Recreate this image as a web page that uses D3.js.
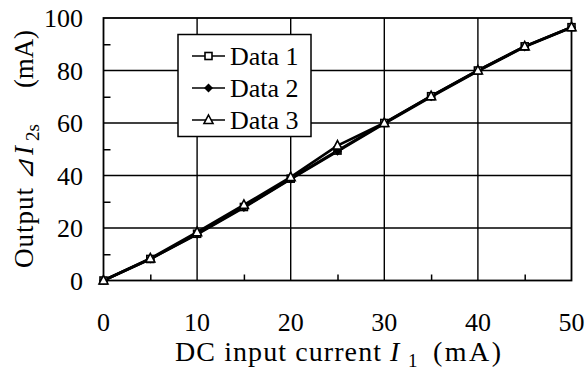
<!DOCTYPE html>
<html>
<head>
<meta charset="utf-8">
<script src="https://cdn.jsdelivr.net/npm/d3@7"></script>
</head>
<body style="margin:0">
<svg id="chart" width="586" height="371" style="font-family: 'Liberation Serif', serif"></svg>
<script>
// input current (mA)
const current = [0, 5, 10, 15, 20, 25, 30, 35, 40, 45, 50]
const data1 = [0, 8.2, 17.8, 28.0, 38.8, 49.5, 60.0, 70.2, 80.0, 89.2, 96.5]
const data2 = [0, 8.2, 17.6, 27.8, 38.6, 49.2, 59.8, 70.0, 79.8, 89.0, 96.4]
const data3 = [0, 8.4, 18.4, 28.8, 39.4, 51.4, 60.0, 70.2, 80.0, 89.2, 96.5]
const series_names = ["Data 1", "Data 2", "Data 3"]
const x_ticks = [0, 10, 20, 30, 40, 50]
const y_ticks = [0, 20, 40, 60, 80, 100]

const font = "'Liberation Serif', serif"

const svg = d3.select("#chart")
const margin = {left: 103.5, right: 14.5, top: 18, bottom: 90.5}
const width = 586 - margin.left - margin.right
const height = 371 - margin.top - margin.bottom

const x = d3.scaleLinear().domain([0, 50]).range([margin.left, margin.left + width])
const y = d3.scaleLinear().domain([0, 100]).range([margin.top + height, margin.top])

// grid
const grid = svg.append("g").attr("stroke", "#000").attr("stroke-width", 1.4)
grid.selectAll(".gx").data(x_ticks.slice(1, -1)).join("line")
    .attr("x1", d => x(d)).attr("x2", d => x(d))
    .attr("y1", y(0)).attr("y2", y(100))
grid.selectAll(".gy").data(y_ticks.slice(1, -1)).join("line")
    .attr("x1", x(0)).attr("x2", x(50))
    .attr("y1", d => y(d)).attr("y2", d => y(d))

// minor ticks, inward
const xAxis = d3.axisBottom(x).tickValues([5, 15, 25, 35, 45]).tickSize(-6).tickFormat("")
svg.append("g").attr("transform", `translate(0,${y(0)})`).call(xAxis)
    .call(g => g.select(".domain").remove())
    .call(g => g.selectAll("text").remove())
    .selectAll("line").attr("stroke-width", 1.5)
const yAxis = d3.axisLeft(y).tickValues([10, 30, 50, 70, 90]).tickSize(-7).tickFormat("")
svg.append("g").attr("transform", `translate(${x(0)},0)`).call(yAxis)
    .call(g => g.select(".domain").remove())
    .call(g => g.selectAll("text").remove())
    .selectAll("line").attr("stroke-width", 1.5)

// frame
svg.append("rect")
    .attr("x", x(0)).attr("y", y(100))
    .attr("width", x(50) - x(0)).attr("height", y(0) - y(100))
    .attr("fill", "none").attr("stroke", "#000").attr("stroke-width", 1.8)

// tick labels
svg.append("g").selectAll("text").data(x_ticks).join("text")
    .style("font-family", font)
    .attr("x", d => x(d)).attr("y", 331)
    .attr("text-anchor", "middle").attr("font-size", 26)
    .text(d => d)
svg.append("g").selectAll("text").data(y_ticks).join("text")
    .style("font-family", font)
    .attr("x", 83).attr("y", d => y(d) + 9)
    .attr("text-anchor", "end").attr("font-size", 26)
    .text(d => d)

// axis titles
const xt = svg.append("text").style("font-family", font)
    .attr("y", 361).attr("font-size", 28)
xt.append("tspan").attr("x", 175).attr("textLength", 206).attr("lengthAdjust", "spacing")
    .text("DC input current")
xt.append("tspan").attr("x", 390).attr("font-style", "italic").text("I")
xt.append("tspan").attr("x", 408).attr("font-size", 19).attr("dy", 6).text("1")
xt.append("tspan").attr("x", 433).attr("dy", -6)
    .attr("textLength", 68).attr("lengthAdjust", "spacing").text("(mA)")

const yt = svg.append("text").style("font-family", font)
    .attr("transform", "translate(33,268) rotate(-90)")
    .attr("font-size", 27)
yt.append("tspan").attr("x", 0).attr("textLength", 80).attr("lengthAdjust", "spacing").text("Output")
yt.append("tspan").attr("x", 88).attr("font-style", "italic").attr("font-size", 25).text("⊿")
yt.append("tspan").attr("x", 113).attr("font-style", "italic").text("I")
yt.append("tspan").attr("x", 127).attr("font-size", 19).attr("dy", 6).text("2s")
yt.append("tspan").attr("x", 180).attr("dy", -6)
    .attr("textLength", 58).attr("lengthAdjust", "spacing").text("(mA)")

// series
const all = [data1, data2, data3]
const line = d3.line().x((d, i) => x(current[i])).y(d => y(d))
svg.append("g").selectAll("path").data(all).join("path")
    .attr("d", line).attr("fill", "none").attr("stroke", "#000").attr("stroke-width", 2.6)

function marker(g, kind, cx, cy) {
    if (kind === 0) {
        g.append("rect").attr("x", cx - 3.5).attr("y", cy - 3.5).attr("width", 7).attr("height", 7)
            .attr("fill", "#fff").attr("stroke", "#000").attr("stroke-width", 1.6)
    } else if (kind === 1) {
        g.append("path").attr("d", `M${cx},${cy - 4.5}L${cx + 4.5},${cy}L${cx},${cy + 4.5}L${cx - 4.5},${cy}Z`)
            .attr("fill", "#000")
    } else {
        g.append("path").attr("d", `M${cx},${cy - 5}L${cx + 4.5},${cy + 3.5}L${cx - 4.5},${cy + 3.5}Z`)
            .attr("fill", "#fff").attr("stroke", "#000").attr("stroke-width", 1.6)
    }
}
const mk = svg.append("g")
all.forEach((s, k) => s.forEach((v, i) => marker(mk, k, x(current[i]), y(v))))

// legend
const lg = svg.append("g")
lg.append("rect").attr("x", 178).attr("y", 34.5).attr("width", 133).attr("height", 102)
    .attr("fill", "#fff").attr("stroke", "#000").attr("stroke-width", 1.5)
series_names.forEach((name, k) => {
    const ly = 56 + k * 32
    lg.append("line").attr("x1", 192).attr("x2", 225).attr("y1", ly).attr("y2", ly)
        .attr("stroke", "#000").attr("stroke-width", 1.5)
    marker(lg, k, 208.5, ly)
    lg.append("text").style("font-family", font)
        .attr("x", 230).attr("y", ly + 8.5).attr("font-size", 26).text(name)
})
</script>
</body>
</html>
